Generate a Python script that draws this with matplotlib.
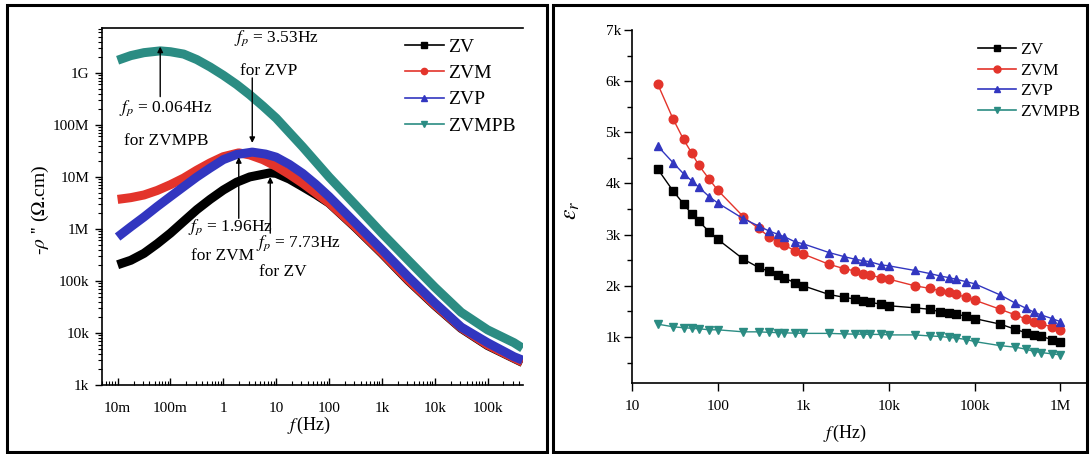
import matplotlib
matplotlib.use("Agg")
import matplotlib.pyplot as plt
from matplotlib.lines import Line2D
from matplotlib.patches import Rectangle
from matplotlib.ticker import FixedLocator, FixedFormatter, LogLocator, MultipleLocator, NullFormatter, NullLocator

plt.rcParams['font.family'] = ['Liberation Serif', 'DejaVu Serif']
plt.rcParams['mathtext.fontset'] = 'stix'

# ---------------- data: imaginary resistivity spectra ----------------
series_names = ["ZV", "ZVM", "ZVP", "ZVMPB"]
series_colors = ["#000000", "#e3342b", "#3236c0", "#2b8c83"]

zv_f = [0.01, 0.0178, 0.0316, 0.0562, 0.1, 0.178, 0.316, 0.562, 1, 1.78, 3.16, 7.73, 10, 17.8, 31.6, 56.2,
        100, 316, 1e3, 3.16e3, 1e4, 3.16e4, 1e5, 3.16e5, 4.6e5]
zv_rho = [2.05e5, 2.5e5, 3.4e5, 5.2e5, 8.3e5, 1.4e6, 2.35e6, 3.7e6, 5.6e6, 7.9e6, 1.0e7, 1.2e7, 1.17e7, 9.1e6, 6.5e6, 4.6e6,
          3.15e6, 1.07e6, 3.4e5, 1.02e5, 3.4e4, 1.23e4, 5.75e3, 3.25e3, 2.7e3]

zvm_f = [0.01, 0.0178, 0.0316, 0.0562, 0.1, 0.178, 0.316, 0.562, 1, 1.96, 3.16, 5.62, 10, 17.8, 31.6,
         100, 316, 1e3, 3.16e3, 1e4, 3.16e4, 1e5, 3.16e5, 4.6e5]
zvm_rho = [3.7e6, 4.0e6, 4.5e6, 5.5e6, 7.1e6, 9.5e6, 1.35e7, 1.86e7, 2.45e7, 2.9e7, 2.65e7, 2.15e7, 1.6e7, 1.12e7, 7.6e6,
           3.2e6, 1.1e6, 3.5e5, 1.05e5, 3.5e4, 1.26e4, 5.9e3, 3.3e3, 2.75e3]

zvp_f = [0.01, 0.0178, 0.0316, 0.0562, 0.1, 0.178, 0.316, 0.562, 1, 1.78, 3.53, 6.3, 10, 17.8, 31.6, 56.2,
         100, 316, 1e3, 3.16e3, 1e4, 3.16e4, 1e5, 3.16e5, 4.6e5]
zvp_rho = [7.0e5, 1.1e6, 1.7e6, 2.7e6, 4.2e6, 6.5e6, 1.0e7, 1.48e7, 2.15e7, 2.7e7, 3.0e7, 2.75e7, 2.4e7, 1.74e7, 1.17e7, 7.2e6,
           4.2e6, 1.3e6, 4.0e5, 1.2e5, 3.8e4, 1.3e4, 6.5e3, 3.5e3, 3.0e3]

zvmpb_f = [0.01, 0.0178, 0.0316, 0.064, 0.1, 0.178, 0.316, 0.562, 1, 1.78, 3.16, 5.62, 10, 31.6,
           100, 316, 1e3, 3.16e3, 1e4, 3.16e4, 1e5, 3.16e5, 4.6e5]
zvmpb_rho = [1.75e9, 2.15e9, 2.45e9, 2.65e9, 2.55e9, 2.3e9, 1.8e9, 1.3e9, 9.0e8, 6.0e8, 3.8e8, 2.3e8, 1.35e8, 3.8e7,
             1.0e7, 2.9e6, 8.3e5, 2.5e5, 7.6e4, 2.5e4, 1.15e4, 6.5e3, 5.1e3]

rho_xticks = [0.01, 0.1, 1, 10, 100, 1e3, 1e4, 1e5]
rho_xlabels = ["10m", "100m", "1", "10", "100", "1k", "10k", "100k"]
rho_yticks = [1e3, 1e4, 1e5, 1e6, 1e7, 1e8, 1e9]
rho_ylabels = ["1k", "10k", "100k", "1M", "10M", "100M", "1G"]

# ---------------- data: relative permittivity ----------------
eps_f = [20, 30, 40, 50, 60, 80, 100, 200, 300, 400, 500, 600, 800,
         1e3, 2e3, 3e3, 4e3, 5e3, 6e3, 8e3, 1e4, 2e4, 3e4, 4e4, 5e4, 6e4, 8e4,
         1e5, 2e5, 3e5, 4e5, 5e5, 6e5, 8e5, 1e6]
zv_eps = [4280, 3860, 3600, 3400, 3270, 3050, 2910, 2520, 2360, 2280, 2210, 2150, 2060,
          2000, 1830, 1775, 1740, 1700, 1680, 1640, 1610, 1570, 1540, 1490, 1460, 1440, 1410,
          1360, 1250, 1150, 1080, 1040, 1010, 950, 910]
zvm_eps = [5940, 5270, 4860, 4590, 4360, 4080, 3870, 3350, 3120, 2960, 2860, 2800, 2680,
           2620, 2420, 2335, 2290, 2240, 2210, 2160, 2130, 2000, 1950, 1900, 1870, 1830, 1780,
           1720, 1540, 1430, 1350, 1300, 1250, 1200, 1140]
zvp_eps = [4730, 4410, 4190, 4050, 3930, 3740, 3620, 3310, 3170, 3070, 3010, 2960, 2860,
           2820, 2650, 2570, 2520, 2490, 2470, 2410, 2390, 2300, 2240, 2190, 2160, 2130, 2080,
           2040, 1820, 1660, 1560, 1480, 1430, 1360, 1300]
zvmpb_eps = [1250, 1200, 1180, 1170, 1160, 1140, 1140, 1100, 1100, 1090, 1085, 1080, 1075,
             1070, 1070, 1060, 1055, 1055, 1050, 1050, 1040, 1040, 1020, 1010, 990, 980, 950,
             910, 830, 800, 760, 715, 695, 670, 650]

eps_xticks = [10, 100, 1e3, 1e4, 1e5, 1e6]
eps_xlabels = ["10", "100", "1k", "10k", "100k", "1M"]
eps_yticks = [1000, 2000, 3000, 4000, 5000, 6000, 7000]
eps_ylabels = ["1k", "2k", "3k", "4k", "5k", "6k", "7k"]

markers = ["s", "o", "^", "v"]

W, H = 1091, 454
fig = plt.figure(figsize=(W / 100, H / 100), dpi=100)


def fx(px):
    return px / W


def fy(py):
    return 1 - py / H


# panel frames
for x0, x1 in [(7, 547), (553, 1087)]:
    fig.patches.append(Rectangle((fx(x0), fy(452)), (x1 - x0) / W, (452 - 5) / H,
                                 transform=fig.transFigure, fill=False, lw=2.2, ec="black"))

# ================= left panel =================
ax1 = fig.add_axes([fx(101.7), fy(385), (522.6 - 101.7) / W, (385 - 28.3) / H])
left_sets = [(zv_f, zv_rho), (zvm_f, zvm_rho), (zvp_f, zvp_rho), (zvmpb_f, zvmpb_rho)]
for (f, r), c in zip(left_sets, series_colors):
    ax1.plot(f, r, color=c, lw=6.5, solid_capstyle="butt", solid_joinstyle="round")

ax1.set_xscale("log")
ax1.set_yscale("log")
ax1.set_xlim(0.005, 4.6e5)
ax1.set_ylim(1e3, 7.2e9)
ax1.xaxis.set_major_locator(FixedLocator(rho_xticks))
ax1.xaxis.set_major_formatter(FixedFormatter(rho_xlabels))
ax1.yaxis.set_major_locator(FixedLocator(rho_yticks))
ax1.yaxis.set_major_formatter(FixedFormatter(rho_ylabels))
ax1.xaxis.set_minor_locator(LogLocator(base=10, subs=range(2, 10), numticks=20))
ax1.yaxis.set_minor_locator(LogLocator(base=10, subs=range(2, 10), numticks=20))
ax1.xaxis.set_minor_formatter(NullFormatter())
ax1.yaxis.set_minor_formatter(NullFormatter())
ax1.tick_params(axis="x", which="both", direction="in", labelsize=11, pad=12)
ax1.tick_params(axis="x", which="major", length=5, width=1)
ax1.tick_params(axis="x", which="minor", length=3, width=0.8)
ax1.tick_params(axis="y", which="both", direction="out", labelsize=11, pad=4)
ax1.tick_params(axis="y", which="major", length=5, width=1)
ax1.tick_params(axis="y", which="minor", length=3, width=0.8)
ax1.spines["right"].set_visible(False)
for s in ["left", "bottom", "top"]:
    ax1.spines[s].set_linewidth(1.2)

# peak annotations
arrow_kw = dict(arrowstyle="-|>", color="black", lw=1.0, mutation_scale=8, shrinkA=0, shrinkB=0)
ax1.annotate("", xy=(3.53, 4.5e7), xytext=(3.53, 8.0e8), arrowprops=arrow_kw)
ax1.annotate("", xy=(0.064, 3.2e9), xytext=(0.064, 3.5e8), arrowprops=arrow_kw)
ax1.annotate("", xy=(1.96, 2.4e7), xytext=(1.96, 1.6e6), arrowprops=arrow_kw)
ax1.annotate("", xy=(7.73, 1.0e7), xytext=(7.73, 8.3e5), arrowprops=arrow_kw)

ann_fs = 12.5
ax1.text(10.0, 4.7e9, r"$f_p$ = 3.53Hz", fontsize=ann_fs, ha="center", va="center")
ax1.text(7.1, 1.1e9, "for ZVP", fontsize=ann_fs, ha="center", va="center")
ax1.text(0.083, 2.1e8, r"$f_p$ = 0.064Hz", fontsize=ann_fs, ha="center", va="center")
ax1.text(0.083, 4.9e7, "for ZVMPB", fontsize=ann_fs, ha="center", va="center")
ax1.text(1.35, 1.1e6, r"$f_p$ = 1.96Hz", fontsize=ann_fs, ha="center", va="center")
ax1.text(0.95, 3.0e5, "for ZVM", fontsize=ann_fs, ha="center", va="center")
ax1.text(27, 5.4e5, r"$f_p$ = 7.73Hz", fontsize=ann_fs, ha="center", va="center")
ax1.text(13.4, 1.5e5, "for ZV", fontsize=ann_fs, ha="center", va="center")

handles1 = [Line2D([], [], color=c, lw=1.2, marker=m, ms=4.5) for c, m in zip(series_colors, markers)]
ax1.legend(handles1, series_names, loc="upper left", bbox_to_anchor=(fx(405), fy(38)),
           bbox_transform=fig.transFigure, frameon=False, fontsize=14, handlelength=2.0,
           handletextpad=0.2, labelspacing=0.45, borderpad=0, borderaxespad=0)

fig.text(fx(309), fy(425), r"$f\,$(Hz)", fontsize=13, ha="center", va="center")
fig.text(fx(40), fy(210), r"-$\rho$ '' ($\Omega$.cm)", fontsize=14, ha="center", va="center", rotation=90)

# ================= right panel =================
ax2 = fig.add_axes([fx(632), fy(383), (1086 - 632) / W, (383 - 30) / H])
right_sets = [zv_eps, zvm_eps, zvp_eps, zvmpb_eps]
for vals, c, m in zip(right_sets, series_colors, markers):
    ax2.plot(eps_f, vals, color=c, lw=1.0, marker=m, ms=6.2, mec=c, mfc=c)

ax2.set_xscale("log")
ax2.set_xlim(10, 2e6)
ax2.set_ylim(100, 7000)
ax2.xaxis.set_major_locator(FixedLocator(eps_xticks))
ax2.xaxis.set_major_formatter(FixedFormatter(eps_xlabels))
ax2.xaxis.set_minor_locator(NullLocator())
ax2.yaxis.set_major_locator(FixedLocator(eps_yticks))
ax2.yaxis.set_major_formatter(FixedFormatter(eps_ylabels))
ax2.yaxis.set_minor_locator(MultipleLocator(500))
ax2.tick_params(axis="both", which="both", direction="out", labelsize=11)
ax2.tick_params(axis="both", which="major", length=6, width=1)
ax2.tick_params(axis="y", which="minor", length=3.5, width=1)
ax2.tick_params(axis="x", pad=6)
ax2.tick_params(axis="y", pad=2)
for s in ["right", "top"]:
    ax2.spines[s].set_visible(False)
for s in ["left", "bottom"]:
    ax2.spines[s].set_linewidth(1.2)

handles2 = [Line2D([], [], color=c, lw=1.2, marker=m, ms=5) for c, m in zip(series_colors, markers)]
ax2.legend(handles2, series_names, loc="upper left", bbox_to_anchor=(fx(978), fy(42)),
           bbox_transform=fig.transFigure, frameon=False, fontsize=12.5, handlelength=2.2,
           handletextpad=0.2, labelspacing=0.25, borderpad=0, borderaxespad=0)

fig.text(fx(845), fy(433), r"$f\,$(Hz)", fontsize=13, ha="center", va="center")
fig.text(fx(572), fy(210), r"$\varepsilon_r$", fontsize=17, ha="center", va="center", rotation=90)

fig.savefig("out.png", dpi=100)
